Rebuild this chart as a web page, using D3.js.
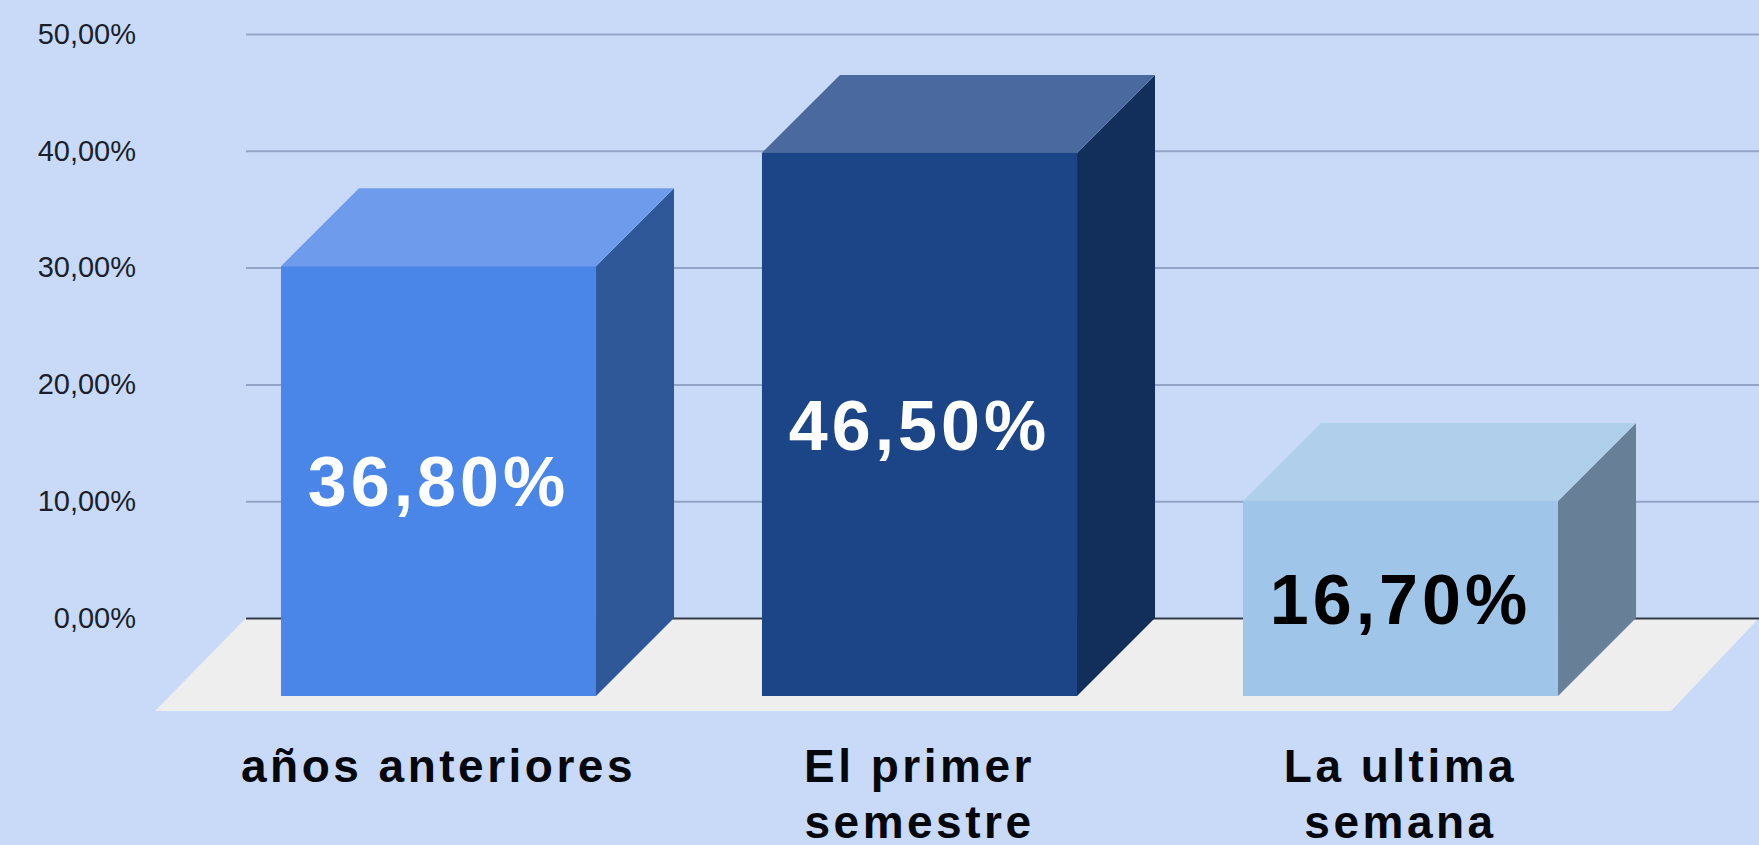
<!DOCTYPE html>
<html>
<head>
<meta charset="utf-8">
<script src="https://cdn.jsdelivr.net/npm/d3@7"></script>
<style>
  html, body { margin: 0; padding: 0; background: #c9daf8; overflow: hidden; }
  svg { display: block; font-family: "Liberation Sans", Arial, sans-serif; }
</style>
</head>
<body>
<svg id="chart" width="1759" height="845"></svg>
<script>
var categories = ["años anteriores", "El primer semestre", "La ultima semana"];
var categoryLines = [["años anteriores"], ["El primer", "semestre"], ["La ultima", "semana"]];
var values = [36.8, 46.5, 16.7];
var tickValues = [0, 10, 20, 30, 40, 50];
var frontColors = ["#4a86e8", "#1c4587", "#9fc5e8"];
var topColors = ["#6e9beb", "#4a6a9f", "#b0cfea"];
var sideColors = ["#2f5898", "#122e5b", "#687f98"];
var labelColors = ["#ffffff", "#ffffff", "#000000"];

var svg = d3.select("#chart"),
    width = +svg.attr("width"),
    wallLeft = 246,
    depth = 78;

var esLocale = d3.formatLocale({decimal: ",", thousands: ".", grouping: [3], currency: ["", "%"]});
var fmt = esLocale.format(".2f");

var y = d3.scaleLinear().domain([0, 50]).range([618, 34]);

// front plane of the bars, the back wall sits one depth up and to the right
var x = d3.scaleBand()
    .domain(categories)
    .range([198, 1641])
    .paddingInner(0.345)
    .paddingOuter(0.1725);

// floor
svg.append("path")
    .attr("fill", "#eeeeee")
    .attr("d", d3.line()([
      [wallLeft, y(0)],
      [width, y(0)],
      [1671, y(0) + 93],
      [155, y(0) + 93]
    ]));

var yAxis = svg.append("g")
    .attr("transform", "translate(" + wallLeft + ",0)")
    .call(d3.axisLeft(y)
      .tickValues(tickValues)
      .tickSizeInner(-(width - wallLeft))
      .tickSizeOuter(0)
      .tickPadding(110)
      .tickFormat(function(d) { return fmt(d) + "%"; }));

yAxis.select(".domain").remove();
yAxis.selectAll(".tick line")
    .attr("stroke", function(d) { return d === 0 ? "#333a48" : "#94a4c6"; })
    .attr("stroke-width", 2);
yAxis.selectAll(".tick text")
    .attr("fill", "#1a1f2b")
    .attr("font-size", 29)
    .attr("font-family", "Liberation Sans");

var bars = svg.selectAll(".bar")
    .data(categories)
    .enter().append("g")
    .attr("class", "bar");

// side face
bars.append("path")
    .attr("fill", function(d, i) { return sideColors[i]; })
    .attr("d", function(d, i) {
      var x1 = x(d) + x.bandwidth(), top = y(values[i]) + depth, bottom = y(0) + depth;
      return d3.line()([[x1, top], [x1 + depth, top - depth], [x1 + depth, bottom - depth], [x1, bottom]]);
    });

// top face
bars.append("path")
    .attr("fill", function(d, i) { return topColors[i]; })
    .attr("d", function(d, i) {
      var x0 = x(d), x1 = x0 + x.bandwidth(), top = y(values[i]) + depth;
      return d3.line()([[x0, top], [x0 + depth, top - depth], [x1 + depth, top - depth], [x1, top]]);
    });

// front face
bars.append("rect")
    .attr("x", function(d) { return x(d); })
    .attr("y", function(d, i) { return y(values[i]) + depth; })
    .attr("width", x.bandwidth())
    .attr("height", function(d, i) { return y(0) - y(values[i]); })
    .attr("fill", function(d, i) { return frontColors[i]; });

// value labels
bars.append("text")
    .attr("x", function(d) { return x(d) + x.bandwidth() / 2; })
    .attr("y", function(d, i) { return (y(values[i]) + y(0)) / 2 + depth; })
    .attr("dy", "0.36em")
    .attr("text-anchor", "middle")
    .attr("font-size", 70)
    .attr("font-weight", "bold")
    .attr("letter-spacing", 4)
    .attr("fill", function(d, i) { return labelColors[i]; })
    .text(function(d, i) { return fmt(values[i]) + "%"; });

// category labels
var catLabels = svg.selectAll(".cat")
    .data(categories)
    .enter().append("text")
    .attr("class", "cat")
    .attr("text-anchor", "middle")
    .attr("font-size", 46)
    .attr("font-weight", "bold")
    .attr("letter-spacing", 3.5)
    .attr("fill", "#05070d");

catLabels.selectAll("tspan")
    .data(function(d, i) { return categoryLines[i]; })
    .enter().append("tspan")
    .attr("x", function() { return x(d3.select(this.parentNode).datum()) + x.bandwidth() / 2; })
    .attr("y", function(d, i) { return 782 + i * 56; })
    .text(function(d) { return d; });
</script>
</body>
</html>
